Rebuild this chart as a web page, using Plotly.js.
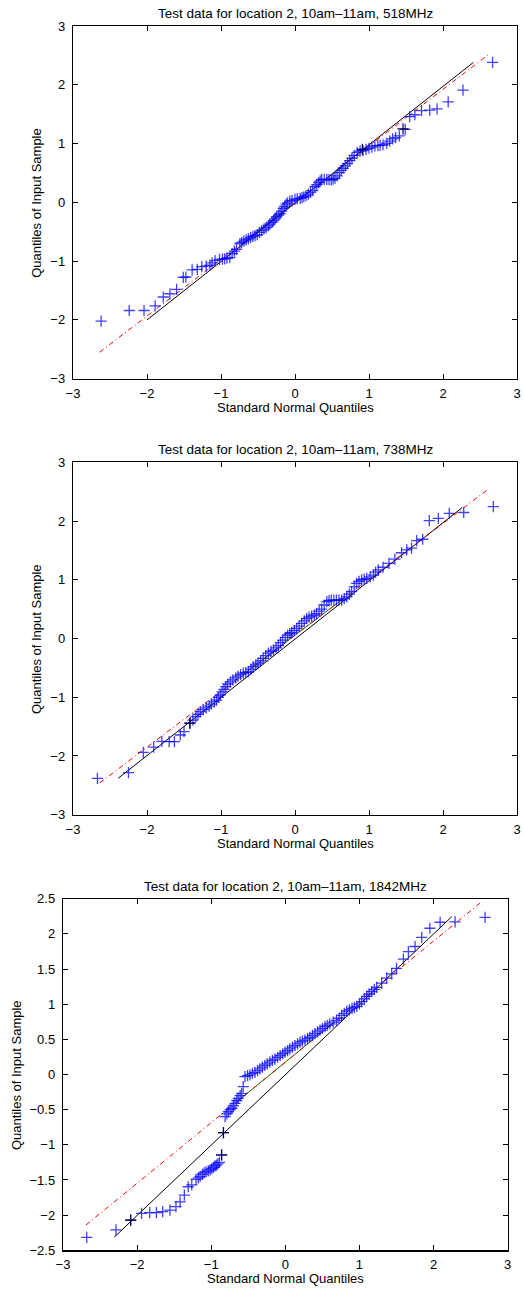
<!DOCTYPE html>
<html>
<head>
<meta charset="utf-8">
<script src="https://cdn.plot.ly/plotly-3.0.1.min.js"></script>
<style>
  html, body { margin: 0; padding: 0; background: #fff; }
  #chart { width: 524px; height: 1289px; }
</style>
</head>
<body>
<div id="chart"></div>
<script>
// ---- 518 MHz: normal quantiles vs sorted sample ----
const q518 = [-2.62, -2.24, -2.04, -1.89, -1.78, -1.69, -1.60, -1.51, -1.475, -1.39, -1.32, -1.26, -1.20, -1.15,
  -1.12, -1.08, -1.02, -0.98, -0.95, -0.92, -0.88, -0.85, -0.82, -0.79, -0.745, -0.72, -0.69, -0.66, -0.63, -0.60,
  -0.57, -0.54, -0.51, -0.48, -0.45, -0.42, -0.39, -0.36, -0.34, -0.31, -0.29, -0.27, -0.25, -0.22, -0.20, -0.18,
  -0.16, -0.14, -0.12, -0.10, -0.07, -0.04, 0.0, 0.03, 0.07, 0.095, 0.12, 0.15, 0.18, 0.21, 0.24, 0.27, 0.295,
  0.32, 0.34, 0.36, 0.395, 0.43, 0.46, 0.49, 0.515, 0.54, 0.57, 0.60, 0.625, 0.65, 0.68, 0.71, 0.74, 0.77, 0.80,
  0.84, 0.88, 0.92, 0.96, 1.00, 1.04, 1.08, 1.12, 1.15, 1.19, 1.24, 1.28, 1.32, 1.36, 1.41, 1.49, 1.55, 1.62,
  1.71, 1.82, 1.92, 2.07, 2.27, 2.67];
const s518 = [-2.02, -1.84, -1.84, -1.76, -1.61, -1.555, -1.48, -1.275, -1.27, -1.15, -1.14, -1.095, -1.085, -1.07,
  -1.03, -0.99, -0.97, -0.965, -0.96, -0.95, -0.94, -0.87, -0.83, -0.80, -0.70, -0.68, -0.66, -0.64, -0.62, -0.60,
  -0.58, -0.565, -0.55, -0.51, -0.48, -0.455, -0.43, -0.40, -0.37, -0.34, -0.31, -0.28, -0.245, -0.215, -0.19, -0.15,
  -0.10, -0.07, -0.03, -0.01, 0.02, 0.03, 0.05, 0.06, 0.067, 0.08, 0.095, 0.115, 0.14, 0.17, 0.20, 0.27, 0.30,
  0.335, 0.365, 0.39, 0.39, 0.39, 0.385, 0.38, 0.395, 0.41, 0.45, 0.505, 0.545, 0.58, 0.62, 0.66, 0.71, 0.75, 0.80,
  0.85, 0.87, 0.88, 0.90, 0.92, 0.94, 0.96, 0.965, 0.97, 0.98, 1.005, 1.04, 1.08, 1.10, 1.13, 1.24, 1.46, 1.49,
  1.56, 1.57, 1.59, 1.71, 1.91, 2.38];
const q518Dark = [0.91, 1.46];
const s518Dark = [0.90, 1.25];
const ref518X = [-2.0, 2.41], ref518Y = [-2.0, 2.38];
const fit518X = [-2.64, 2.63], fit518Y = [-2.55, 2.53];
const iqr518X = [-0.67, 0.67], iqr518Y = [-0.653, 0.639];

// ---- 738 MHz ----
const q738 = [-2.67, -2.25, -2.05, -1.91, -1.80, -1.70, -1.63, -1.55, -1.50, -1.42, -1.38, -1.34, -1.31, -1.28,
  -1.24, -1.20, -1.16, -1.13, -1.09, -1.06, -1.035, -1.01, -0.985, -0.96, -0.935, -0.91, -0.875, -0.84, -0.80,
  -0.77, -0.735, -0.70, -0.665, -0.63, -0.595, -0.565, -0.53, -0.50, -0.465, -0.43, -0.395, -0.36, -0.325, -0.29,
  -0.255, -0.225, -0.195, -0.166, -0.13, -0.10, -0.07, -0.045, -0.01, 0.022, 0.055, 0.09, 0.125, 0.157, 0.19,
  0.225, 0.26, 0.29, 0.325, 0.36, 0.395, 0.43, 0.46, 0.49, 0.525, 0.56, 0.595, 0.63, 0.665, 0.70, 0.735, 0.765,
  0.80, 0.833, 0.865, 0.90, 0.935, 0.97, 1.015, 1.06, 1.09, 1.125, 1.19, 1.27, 1.35, 1.44, 1.51, 1.575, 1.644,
  1.725, 1.815, 1.937, 2.085, 2.28, 2.68];
const s738 = [-2.38, -2.285, -1.94, -1.85, -1.75, -1.757, -1.757, -1.643, -1.587, -1.44, -1.39, -1.33, -1.29, -1.245,
  -1.21, -1.18, -1.15, -1.117, -1.08, -1.05, -1.00, -0.962, -0.91, -0.865, -0.82, -0.775, -0.74, -0.705, -0.67,
  -0.64, -0.615, -0.59, -0.58, -0.566, -0.52, -0.48, -0.45, -0.42, -0.38, -0.337, -0.29, -0.25, -0.22, -0.197,
  -0.16, -0.12, -0.07, -0.026, 0.02, 0.06, 0.085, 0.10, 0.135, 0.17, 0.21, 0.256, 0.30, 0.34, 0.365,
  0.38, 0.40, 0.425, 0.465, 0.50, 0.57, 0.627, 0.645, 0.655, 0.655, 0.655, 0.655, 0.655, 0.68, 0.71, 0.755, 0.80,
  0.88, 0.94, 0.975, 1.0, 1.01, 1.025, 1.05, 1.08, 1.13, 1.17, 1.213, 1.28, 1.35, 1.46, 1.51, 1.54, 1.665,
  1.69, 2.006, 2.045, 2.13, 2.145, 2.245];
const q738Dark = [-1.42];
const s738Dark = [-1.44];
const ref738X = [-2.39, 2.26], ref738Y = [-2.38, 2.23];
const fit738X = [-2.64, 2.62], fit738Y = [-2.46, 2.55];
const iqr738X = [-0.67, 0.67], iqr738Y = [-0.583, 0.695];

// ---- 1842 MHz ----
const q1842 = [-2.68, -2.285, -2.087, -1.94, -1.83, -1.74, -1.655, -1.557, -1.476, -1.42, -1.363, -1.31, -1.263,
  -1.205, -1.175, -1.15, -1.12, -1.097, -1.07, -1.04, -1.015, -0.993, -0.97, -0.948, -0.93, -0.91, -0.89, -0.86,
  -0.835, -0.813, -0.79, -0.77, -0.745, -0.72, -0.70, -0.68, -0.655, -0.635, -0.61, -0.59, -0.568, -0.545, -0.51,
  -0.478, -0.445, -0.41, -0.375, -0.345, -0.31, -0.277, -0.245, -0.21, -0.175, -0.14, -0.105, -0.07, -0.035,
  -0.004, 0.03, 0.06, 0.095, 0.13, 0.165, 0.198, 0.23, 0.265, 0.30, 0.33, 0.365, 0.40, 0.435, 0.468, 0.50, 0.535,
  0.565, 0.60, 0.645, 0.69, 0.725, 0.76, 0.795, 0.828, 0.865, 0.90, 0.93, 0.963, 1.00, 1.03, 1.065, 1.098, 1.13,
  1.165, 1.20, 1.233, 1.30, 1.368, 1.435, 1.50, 1.593, 1.66, 1.75, 1.84, 1.95, 2.088, 2.29, 2.695];
const s1842 = [-2.315, -2.21, -2.07, -1.974, -1.965, -1.965, -1.95, -1.93, -1.88, -1.81, -1.715, -1.596, -1.57,
  -1.49, -1.47, -1.45, -1.42, -1.40, -1.385, -1.37, -1.355, -1.34, -1.32, -1.30, -1.29, -1.27, -1.25, -1.145,
  -0.828, -0.60, -0.56, -0.53, -0.50, -0.48, -0.445, -0.41, -0.37, -0.34, -0.30, -0.27, -0.173, -0.03, -0.015,
  -0.004, 0.015, 0.03, 0.055, 0.08, 0.105, 0.13, 0.15, 0.175, 0.20, 0.22, 0.245, 0.27, 0.295,
  0.318, 0.34, 0.365, 0.39, 0.41, 0.435, 0.46, 0.475, 0.49, 0.51, 0.53, 0.555, 0.58, 0.605, 0.63, 0.655, 0.68,
  0.70, 0.72, 0.745, 0.77, 0.80, 0.84, 0.87, 0.90, 0.92, 0.94, 0.955, 0.97, 1.00, 1.035, 1.075, 1.11, 1.145,
  1.18, 1.21, 1.24, 1.30, 1.37, 1.43, 1.51, 1.64, 1.746, 1.82, 1.95, 2.08, 2.165, 2.17, 2.235];
const q1842Dark = [-2.087, -0.835, -0.86];
const s1842Dark = [-2.07, -0.828, -1.145];
const ref1842X = [-2.31, 2.245], ref1842Y = [-2.315, 2.244];
const fit1842X = [-2.69, 2.65], fit1842Y = [-2.14, 2.457];
const iqr1842X = [-0.67, 0.67], iqr1842Y = [-0.401, 0.753];

const titles = [
  'Test data for location 2, 10am\u201311am, 518MHz',
  'Test data for location 2, 10am\u201311am, 738MHz',
  'Test data for location 2, 10am\u201311am, 1842MHz'
];
const xTitle = 'Standard Normal Quantiles';
const yTitle = 'Quantiles of Input Sample';

const FONT = 'Liberation Sans, Arial, Helvetica, sans-serif';
const FS = 13;
const W = 524, H = 1289;

// panel frames in pixels: [left, right, top, bottom]
const frames = [
  [73, 517, 26, 378.7],
  [73, 517, 462.3, 814.7],
  [63, 507.7, 898.7, 1250.3]
];

const panels = [
  {q: q518, s: s518, qd: q518Dark, sd: s518Dark, rx: ref518X, ry: ref518Y, fx: fit518X, fy: fit518Y, ix: iqr518X, iy: iqr518Y},
  {q: q738, s: s738, qd: q738Dark, sd: s738Dark, rx: ref738X, ry: ref738Y, fx: fit738X, fy: fit738Y, ix: iqr738X, iy: iqr738Y},
  {q: q1842, s: s1842, qd: q1842Dark, sd: s1842Dark, rx: ref1842X, ry: ref1842Y, fx: fit1842X, fy: fit1842Y, ix: iqr1842X, iy: iqr1842Y}
];

const traces = [];
panels.forEach((p, i) => {
  const xa = i === 0 ? 'x' : 'x' + (i + 1);
  const ya = i === 0 ? 'y' : 'y' + (i + 1);
  traces.push({x: p.rx, y: p.ry, xaxis: xa, yaxis: ya, mode: 'lines', line: {color: '#000', width: 1}, hoverinfo: 'skip'});
  traces.push({x: p.ix, y: p.iy, xaxis: xa, yaxis: ya, mode: 'lines', line: {color: '#008000', width: 1}, hoverinfo: 'skip'});
  traces.push({x: p.fx, y: p.fy, xaxis: xa, yaxis: ya, mode: 'lines', line: {color: '#ff0000', width: 1, dash: '5px,3px,1px,3px'}, hoverinfo: 'skip'});
  traces.push({x: p.q, y: p.s, xaxis: xa, yaxis: ya, mode: 'markers',
    marker: {symbol: 'cross-thin-open', size: 8, opacity: 0.75, color: '#0000ff', line: {color: '#0000ff', width: 1.3}}});
  traces.push({x: p.qd, y: p.sd, xaxis: xa, yaxis: ya, mode: 'markers',
    marker: {symbol: 'cross-thin-open', size: 8, color: '#000040', line: {color: '#000040', width: 1.2}}});
});

const axisBase = {
  showgrid: false, zeroline: false, showline: true, linecolor: '#000', linewidth: 1.2,
  mirror: 'ticks', ticks: 'inside', ticklen: 5, tickwidth: 1, tickcolor: '#000',
  tickfont: {family: FONT, size: FS, color: '#000'}, fixedrange: true
};

const layout = {
  width: W, height: H, showlegend: false,
  margin: {l: 0, r: 0, t: 0, b: 0},
  paper_bgcolor: '#fff', plot_bgcolor: '#fff',
  font: {family: FONT, size: FS, color: '#000'},
  annotations: []
};

frames.forEach((f, i) => {
  const sfx = i === 0 ? '' : String(i + 1);
  const xd = [f[0] / W, f[1] / W];
  const yd = [1 - f[3] / H, 1 - f[2] / H];
  layout['xaxis' + sfx] = Object.assign({}, axisBase, {
    domain: xd, range: [-3, 3], dtick: 1, anchor: 'y' + sfx, ticklabelstandoff: 2
  });
  const yr = i === 2 ? [-2.5, 2.5] : [-3, 3];
  layout['yaxis' + sfx] = Object.assign({}, axisBase, {
    domain: yd, range: yr, dtick: i === 2 ? 0.5 : 1, anchor: 'x' + sfx, ticklabelstandoff: 4
  });
  const cx = (xd[0] + xd[1]) / 2;
  layout.annotations.push({
    text: titles[i], xref: 'paper', yref: 'paper', x: cx, y: yd[1], yshift: 3,
    xanchor: 'center', yanchor: 'bottom', showarrow: false, font: {family: FONT, size: 13.5, color: '#000'}
  });
  layout.annotations.push({
    text: xTitle, xref: 'paper', yref: 'paper', x: cx, y: yd[0], yshift: -19,
    xanchor: 'center', yanchor: 'top', showarrow: false, font: {family: FONT, size: FS, color: '#000'}
  });
  layout.annotations.push({
    text: yTitle, xref: 'paper', yref: 'paper', x: xd[0], xshift: i === 2 ? -37 : -27, y: (yd[0] + yd[1]) / 2,
    xanchor: 'right', yanchor: 'middle', textangle: -90, showarrow: false, font: {family: FONT, size: FS, color: '#000'}
  });
});

Plotly.newPlot('chart', traces, layout, {displayModeBar: false, staticPlot: true});
</script>
</body>
</html>
